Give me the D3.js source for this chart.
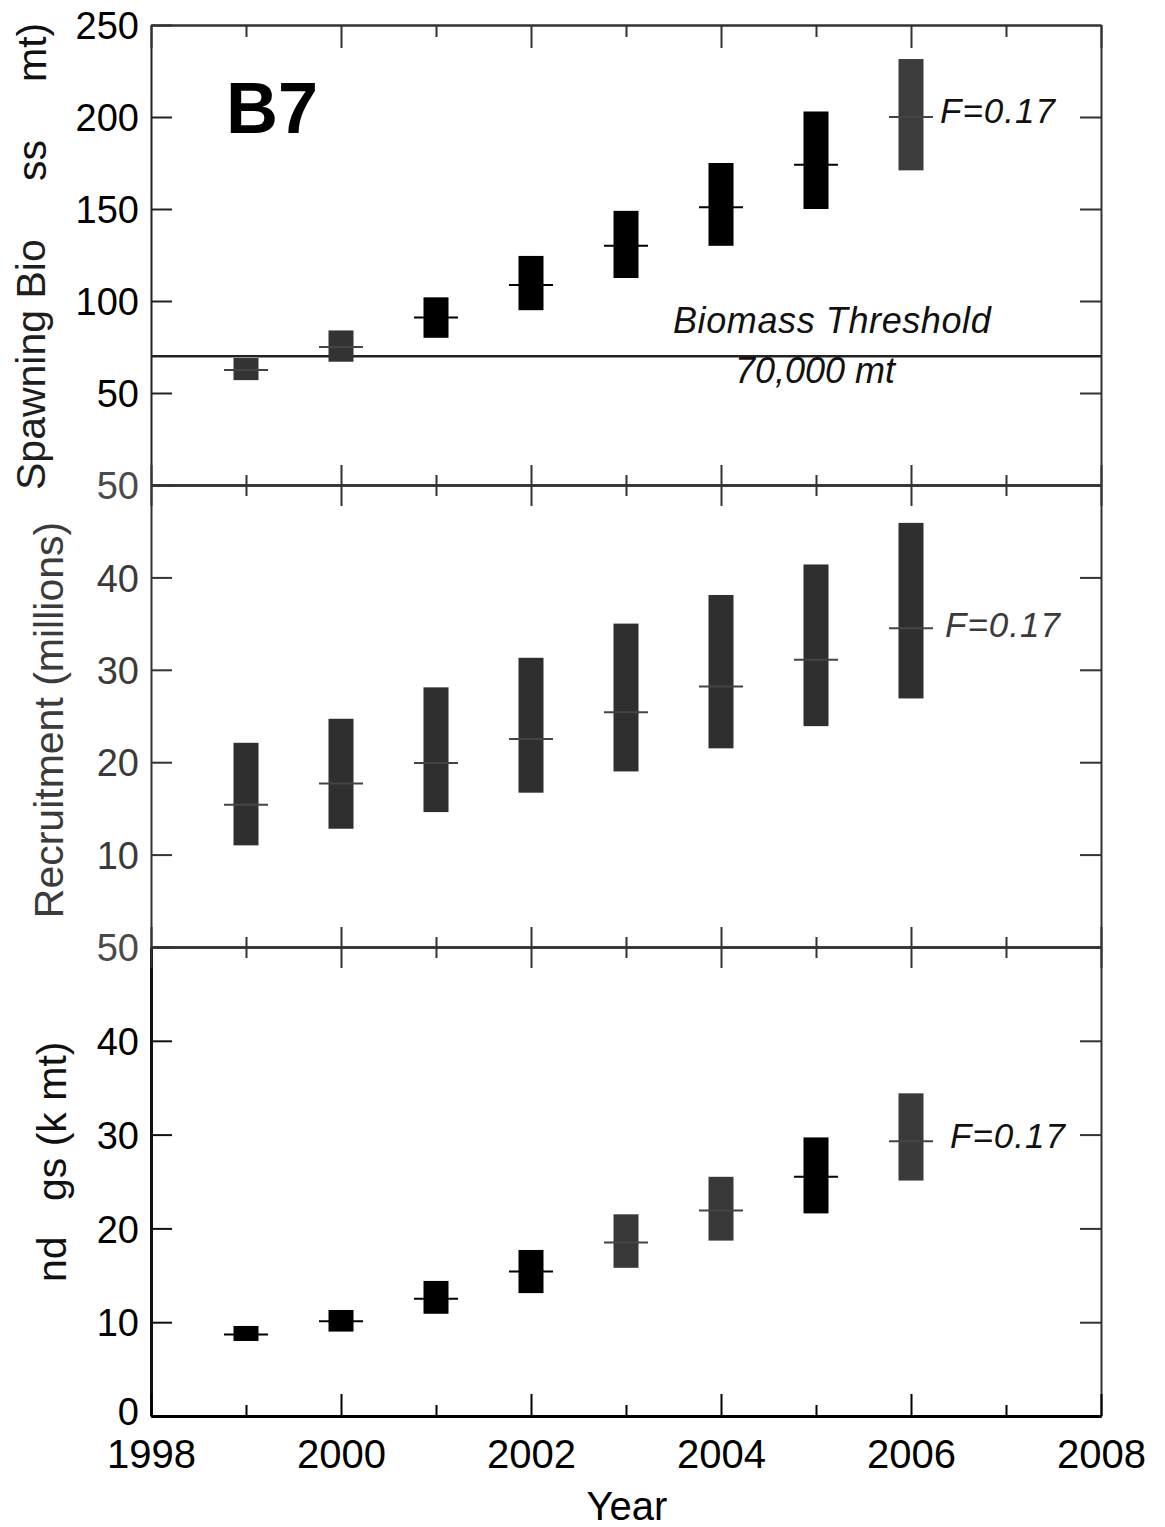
<!DOCTYPE html>
<html><head><meta charset="utf-8">
<script src="https://cdn.jsdelivr.net/npm/d3@7"></script>
<style>
body{margin:0;background:#fff}
svg{display:block}
text{font-family:"Liberation Sans",Arial,Helvetica,sans-serif}
</style>
</head><body>
<svg id="chart" width="1165" height="1527"></svg>
<script>
// ---- data ----
const years = [1999, 2000, 2001, 2002, 2003, 2004, 2005, 2006];
const xTicksEven = [1998, 2000, 2002, 2004, 2006, 2008];
const xTicksOdd = [1999, 2001, 2003, 2005, 2007];

// Spawning biomass (k mt): low / median / high
const biomassLow  = [57, 67, 80, 95, 112.5, 130, 150, 171];
const biomassMid  = [62.5, 75, 91, 108.7, 130, 151, 174, 200];
const biomassHigh = [69, 84, 102, 124.5, 149, 175, 203, 231.5];
const biomassThreshold = 70;
const biomassColors = ["#333", "#333", "#000", "#000", "#000", "#000", "#000", "#3c3c3c"];

// Recruitment (millions)
const recruitLow  = [11.0, 12.8, 14.6, 16.7, 19.0, 21.5, 23.9, 26.9];
const recruitMid  = [15.4, 17.7, 19.9, 22.5, 25.4, 28.2, 31.1, 34.5];
const recruitHigh = [22.1, 24.7, 28.1, 31.3, 35.0, 38.1, 41.4, 45.9];
const recruitColors = ["#2f2f2f", "#2f2f2f", "#2f2f2f", "#2f2f2f", "#2f2f2f", "#2f2f2f", "#2f2f2f", "#2f2f2f"];

// Landings (k mt)
const landLow  = [8.0, 9.0, 10.9, 13.1, 15.8, 18.7, 21.6, 25.1];
const landMid  = [8.7, 10.1, 12.5, 15.4, 18.5, 21.9, 25.5, 29.3];
const landHigh = [9.6, 11.3, 14.4, 17.7, 21.5, 25.5, 29.7, 34.4];
const landColors = ["#000", "#000", "#000", "#000", "#383838", "#383838", "#000", "#3a3a3a"];

const biomassTickLabels = [250, 200, 150, 100, 50];
const biomassInnerTicks = [200, 150, 100, 50];
const recruitTickLabels = [50, 40, 30, 20, 10];
const recruitInnerTicks = [40, 30, 20, 10];
const landTickLabels = [50, 40, 30, 20, 10, 0];
const landInnerTicks = [40, 30, 20, 10];

// ---- layout ----
const svg = d3.select("#chart");
const x = d3.scaleLinear().domain([1998, 2008]).range([151, 1101]);
const yB = d3.scaleLinear().domain([0, 250]).range([485, 25]);
const yR = d3.scaleLinear().domain([0, 50]).range([947, 485]);
const yL = d3.scaleLinear().domain([0, 50]).range([1416, 947]);

const FRAME = "#333";

function styleAxis(g, color, width) {
  g.select(".domain").attr("stroke", color).attr("stroke-width", width);
  g.selectAll(".tick line").attr("stroke", color).attr("stroke-width", 2);
}

function panel(y, labels, inner, labelColor, leftColor, leftWidth) {
  const gl = svg.append("g").attr("transform", `translate(${x(1998)},0)`)
    .call(d3.axisLeft(y).tickValues(labels).tickSizeInner(-21).tickSizeOuter(0)
      .tickPadding(12).tickFormat(d3.format("d")));
  styleAxis(gl, leftColor, leftWidth);
  gl.selectAll(".tick text").attr("font-size", 38).attr("fill", labelColor)
    .attr("font-family", '"Liberation Sans",Arial,sans-serif').attr("dy", "0.36em");
  const gr = svg.append("g").attr("transform", `translate(${x(2008)},0)`)
    .call(d3.axisRight(y).tickValues(inner).tickSizeInner(-21).tickSizeOuter(0).tickFormat(""));
  styleAxis(gr, FRAME, 2);
  return gl;
}

const glB = panel(yB, biomassTickLabels, biomassInnerTicks, "#000", "#222", 2);
const glR = panel(yR, recruitTickLabels, recruitInnerTicks, "#3a3a3a", "#333", 2);
const glL = panel(yL, landTickLabels, landInnerTicks, "#000", "#111", 3);
glR.selectAll(".tick text").filter(d => d === 50).attr("fill", "#4a4a4a");
glL.selectAll(".tick text").filter(d => d === 50).attr("fill", "#4a4a4a");
glL.selectAll(".tick text").filter(d => d === 0).attr("dy", "0.22em");

function hAxis(yPos, axisFn, values, size) {
  const g = svg.append("g").attr("transform", `translate(0,${yPos})`)
    .call(axisFn(x).tickValues(values).tickSizeInner(size).tickSizeOuter(0).tickFormat(""));
  styleAxis(g, FRAME, 2);
  return g;
}
hAxis(25, d3.axisBottom, xTicksEven, 23);
hAxis(25, d3.axisBottom, xTicksOdd, 12);
[485, 947].forEach(yy => {
  hAxis(yy, d3.axisBottom, xTicksEven, 21);
  hAxis(yy, d3.axisTop, xTicksEven, 20);
  hAxis(yy, d3.axisBottom, xTicksOdd, 11);
  hAxis(yy, d3.axisTop, xTicksOdd, 10);
});

const gx = svg.append("g").attr("transform", `translate(0,${yL(0)})`)
  .call(d3.axisBottom(x).tickValues(xTicksEven).tickSizeInner(-22).tickSizeOuter(0)
    .tickPadding(24).tickFormat(d3.format("d")));
styleAxis(gx, "#000", 3);
gx.selectAll(".tick text").attr("font-size", 40).attr("fill", "#000")
  .attr("font-family", '"Liberation Sans",Arial,sans-serif');
const gx2 = svg.append("g").attr("transform", `translate(0,${yL(0)})`)
  .call(d3.axisBottom(x).tickValues(xTicksOdd).tickSizeInner(-11).tickSizeOuter(0).tickFormat(""));
styleAxis(gx2, "#000", 3);

svg.append("line")
  .attr("x1", x(1998)).attr("x2", x(2008))
  .attr("y1", yB(biomassThreshold)).attr("y2", yB(biomassThreshold))
  .attr("stroke", "#222").attr("stroke-width", 2.5);

function bars(y, low, mid, high, colors) {
  const data = years.map((yr, i) => ({yr, lo: low[i], md: mid[i], hi: high[i], c: colors[i]}));
  const g = svg.append("g");
  g.selectAll("rect").data(data).join("rect")
    .attr("x", d => x(d.yr) - 12.5).attr("width", 25)
    .attr("y", d => y(d.hi)).attr("height", d => y(d.lo) - y(d.hi))
    .attr("fill", d => d.c);
  g.selectAll("line").data(data).join("line")
    .attr("x1", d => x(d.yr) - 22).attr("x2", d => x(d.yr) + 22)
    .attr("y1", d => y(d.md)).attr("y2", d => y(d.md))
    .attr("stroke", d => d.c === "#000" ? "#000" : "#444").attr("stroke-width", 2);
}
bars(yB, biomassLow, biomassMid, biomassHigh, biomassColors);
bars(yR, recruitLow, recruitMid, recruitHigh, recruitColors);
bars(yL, landLow, landMid, landHigh, landColors);

function txt(xp, yp, s, opts = {}) {
  const t = svg.append("text").attr("x", xp).attr("y", yp).text(s)
    .attr("font-size", opts.size || 36)
    .attr("fill", opts.fill || "#000")
    .attr("text-anchor", opts.anchor || "start");
  if (opts.italic) t.attr("font-style", "italic");
  if (opts.bold) t.attr("font-weight", "bold");
  if (opts.ls) t.attr("letter-spacing", opts.ls);
  return t;
}
txt(226, 133, "B7", {size: 72, bold: true});
txt(940, 123, "F=0.17", {size: 35, italic: true, ls: 1, fill: "#111"});
txt(673, 333, "Biomass Threshold", {size: 36, italic: true, ls: 0.6, fill: "#111"});
txt(735, 383, "70,000 mt", {size: 36, italic: true, fill: "#111"});
txt(945, 637, "F=0.17", {size: 35, italic: true, ls: 1, fill: "#3a3a3a"});
txt(950, 1148, "F=0.17", {size: 35, italic: true, ls: 1, fill: "#111"});
txt(627, 1520, "Year", {size: 40, anchor: "middle"});

function vtxt(xp, yp, s, opts = {}) {
  return svg.append("text").attr("transform", `translate(${xp},${yp}) rotate(-90)`)
    .text(s).attr("font-size", opts.size || 41).attr("fill", opts.fill || "#000")
    .attr("text-anchor", opts.anchor || "start");
}
vtxt(45, 490, "Spawning Bio", {fill: "#1e1e1e"});
vtxt(46, 181, "ss", {fill: "#111"});
vtxt(46, 82, "mt)", {fill: "#111"});
vtxt(63, 720, "Recruitment (millions)", {anchor: "middle", fill: "#3b3b3b"});
vtxt(66, 1282, "nd", {fill: "#111"});
vtxt(66, 1201, "gs (k mt)", {fill: "#111"});
</script>
</body></html>
